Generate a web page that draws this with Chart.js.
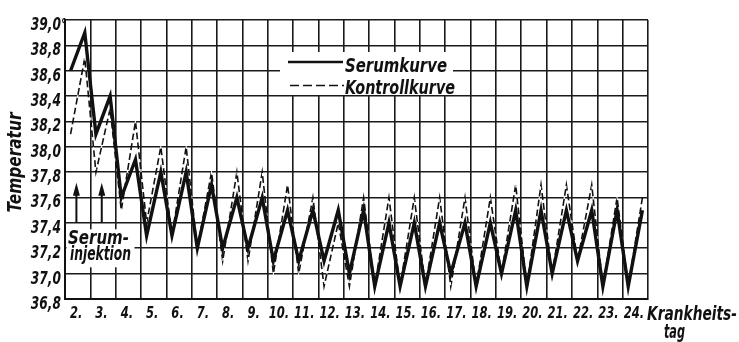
<!DOCTYPE html>
<html><head><meta charset="utf-8">
<style>html,body{margin:0;padding:0;background:#fff;}#wrap{width:739px;height:342px;}</style>
<script src="https://cdn.jsdelivr.net/npm/chart.js@4/dist/chart.umd.min.js"></script>
</head><body><div id="wrap"><canvas id="c" width="739" height="342"></canvas></div>
<script>
// ---- data ----
const days = [2,3,4,5,6,7,8,9,10,11,12,13,14,15,16,17,18,19,20,21,22,23,24];
const serumMorning    = [38.6,38.1,37.6,37.3,37.3,37.2,37.2,37.2,37.1,37.1,37.1,37.0,36.9,36.9,36.9,37.0,36.9,37.0,36.9,37.0,37.1,36.9,36.9];
const serumEvening    = [38.9,38.4,37.9,37.8,37.8,37.7,37.6,37.6,37.5,37.5,37.5,37.5,37.4,37.4,37.4,37.4,37.4,37.5,37.5,37.5,37.5,37.5,37.5];
const kontrollMorning = [38.1,37.8,37.5,37.4,37.3,37.2,37.1,37.1,37.0,37.0,36.9,36.9,36.9,36.9,36.9,36.9,36.9,37.0,36.9,37.0,37.1,36.9,36.9];
const kontrollEvening = [38.7,38.3,38.2,38.0,38.0,37.8,37.8,37.8,37.7,37.6,37.4,37.6,37.6,37.6,37.6,37.6,37.6,37.7,37.7,37.7,37.7,37.6,37.6];
const yTickValues = [36.8,37.0,37.2,37.4,37.6,37.8,38.0,38.2,38.4,38.6,38.8,39.0];
const seriesNames = ['Serumkurve','Kontrollkurve'];
const injectionDays = [2,3];
const injectionText = ['Serum-','injektion'];
const yAxisTitle = 'Temperatur';
const xAxisTitle = ['Krankheits-','tag'];

const FONT = "'Liberation Sans Narrow','DejaVu Sans Condensed','Liberation Sans',sans-serif";
const INK = '#111';

function buildPoints(morning, evening){
  const out = [];
  days.forEach((d,i)=>{ out.push({x:d+0.22,y:morning[i]}); out.push({x:d+0.78,y:evening[i]}); });
  return out;
}

// draw condensed italic text: fits text into given width
function txt(ctx, s, x, y, size, align, width, base){
  ctx.save();
  ctx.font = `italic bold ${size}px ${FONT}`;
  const w = ctx.measureText(s).width;
  const sx = width ? width / w : 0.8;
  ctx.translate(x, y);
  ctx.scale(sx, 1);
  ctx.textAlign = align || 'left';
  ctx.textBaseline = base || 'alphabetic';
  ctx.fillStyle = INK;
  ctx.fillText(s, 0, 0);
  ctx.restore();
}

const deco = {
  id:'deco',
  beforeDatasetsDraw(chart){
    const ctx = chart.ctx;
    const xs = chart.scales.x, ys = chart.scales.y;
    ctx.save();
    ctx.fillStyle = '#fff';
    ctx.fillRect(280, 52, 173, 43);
    ctx.fillRect(xs.left+1.5, ys.getPixelForValue(37.35), 68, ys.getPixelForValue(37.05)-ys.getPixelForValue(37.35));
    ctx.restore();
  },
  afterDatasetsDraw(chart){
    const ctx = chart.ctx;
    const xs = chart.scales.x, ys = chart.scales.y;
    const ca = chart.chartArea;
    ctx.save();
    ctx.fillStyle = INK; ctx.strokeStyle = INK;
    // legend
    ctx.lineWidth = 2.4;
    ctx.beginPath(); ctx.moveTo(288, 62); ctx.lineTo(343, 62); ctx.stroke();
    ctx.lineWidth = 1.6; ctx.setLineDash([9,4]);
    ctx.beginPath(); ctx.moveTo(290, 85.5); ctx.lineTo(344, 85.5); ctx.stroke();
    ctx.setLineDash([]);
    txt(ctx, seriesNames[0], 345, 71.5, 20, 'left', 102);
    txt(ctx, seriesNames[1], 345, 93.5, 20, 'left', 110);
    // injection arrows
    injectionDays.forEach(d=>{
      const x = xs.getPixelForValue(d+0.45);
      const yb = ys.getPixelForValue(37.4), yt = ys.getPixelForValue(37.7)-2;
      ctx.lineWidth = 2;
      ctx.beginPath(); ctx.moveTo(x, yb); ctx.lineTo(x, yt+10); ctx.stroke();
      ctx.beginPath(); ctx.moveTo(x, yt); ctx.lineTo(x-3.5, yt+13); ctx.lineTo(x+3.5, yt+13); ctx.closePath(); ctx.fill();
    });
    txt(ctx, injectionText[0], xs.left+3, 244, 19, 'left', 61);
    txt(ctx, injectionText[1], xs.left+5, 259.5, 19, 'left', 61);
    // y tick labels (from the library's ticks)
    ys.ticks.forEach(t=>{
      const y = ys.getPixelForValue(t.value) + 5.5;
      txt(ctx, t.label, ca.left-4, y, 17, 'right', null, 'middle');
    });
    txt(ctx, '°', ca.left-4, ys.getPixelForValue(39.0)+11, 17, 'left');
    // x tick labels
    xs.ticks.forEach(t=>{
      if (!t.label) return;
      const xc = (xs.getPixelForValue(t.value) + xs.getPixelForValue(t.value+1))/2 - 1.5;
      txt(ctx, t.label, xc, 317.5, 16, 'center');
    });
    // axis titles
    txt(ctx, xAxisTitle[0], ca.right-1, 319.5, 19, 'left', 90);
    txt(ctx, xAxisTitle[1], ca.right+16, 337.5, 19, 'left', 21);
    ctx.save();
    ctx.translate(21, (ca.top+ca.bottom)/2 + 3);
    ctx.rotate(-Math.PI/2);
    txt(ctx, yAxisTitle, 0, 0, 19, 'center', 100);
    ctx.restore();
    ctx.restore();
  }
};

const kontrollPts = buildPoints(kontrollMorning, kontrollEvening);

new Chart(document.getElementById('c'), {
  type:'line',
  data:{
    datasets:[
      {label:seriesNames[0], data:buildPoints(serumMorning, serumEvening), borderColor:INK, borderWidth:3.4, pointRadius:0, tension:0, borderJoinStyle:'miter', fill:false},
      // white gaps of the dashed curve, visible where it runs over the heavy curve
      {label:seriesNames[1]+' gaps', data:kontrollPts, borderColor:'#fff', borderWidth:1.1, borderDash:[3,7], borderDashOffset:3, pointRadius:0, tension:0, fill:false},
      {label:seriesNames[1], data:kontrollPts, borderColor:INK, borderWidth:1.6, borderDash:[7,3], pointRadius:0, tension:0, fill:false}
    ]
  },
  options:{
    responsive:false, animation:false, devicePixelRatio:1,
    layout:{padding:{top:20,right:91,bottom:0,left:0}},
    plugins:{legend:{display:false}, tooltip:{enabled:false}},
    scales:{
      x:{
        type:'linear', min:2, max:25,
        grid:{color:'#1a1a1a', lineWidth:1.6, drawTicks:false},
        border:{color:INK, width:2},
        ticks:{stepSize:1, autoSkip:false, maxRotation:0, padding:7, color:'rgba(0,0,0,0)',
          font:{family:FONT, size:16, style:'italic', weight:'bold'},
          callback:v => v < 25 ? v + '.' : ''},
        afterFit:s => { s.height = 43; }
      },
      y:{
        min:36.8, max:39.0,
        afterBuildTicks:s => { s.ticks = yTickValues.map(v=>({value:v})); },
        grid:{color:'#1a1a1a', lineWidth:1.6, drawTicks:false},
        border:{color:INK, width:2},
        ticks:{padding:4, color:'rgba(0,0,0,0)',
          font:{family:FONT, size:17, style:'italic', weight:'bold'},
          callback:v => v.toFixed(1).replace('.', ',')},
        afterFit:s => { s.width = 65; }
      }
    }
  },
  plugins:[deco]
});
</script>
</body></html>
